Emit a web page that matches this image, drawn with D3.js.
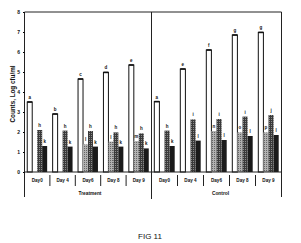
<!DOCTYPE html>
<html>
<head>
<meta charset="utf-8">
<script src="https://cdn.jsdelivr.net/npm/d3@7"></script>
<style>
  body { margin: 0; background: #fff; }
  svg { opacity: 0.999; }
  text { font-family: "Liberation Sans", Arial, sans-serif; fill: #111; }
</style>
</head>
<body>
<script>
var days = ["Day0", "Day 4", "Day6", "Day 8", "Day 9"];
var groups = ["Treatment", "Control"];
var series = ["open", "light", "dark", "black"];
var yTicks = [0, 1, 2, 3, 4, 5, 6, 7, 8];

// log cfu/ml (null = no bar drawn)
var treatmentOpen  = [3.5, 2.9, 4.65, 4.98, 5.35];
var treatmentLight = [null, null, 1.38, 1.52, 1.55];
var treatmentDark  = [2.1, 2.07, 2.05, 1.98, 1.93];
var treatmentBlack = [1.3, 1.27, 1.27, 1.27, 1.18];
var controlOpen  = [3.52, 5.15, 6.1, 6.85, 6.98];
var controlLight = [null, null, 2.05, 1.98, 1.98];
var controlDark  = [2.07, 2.63, 2.65, 2.77, 2.85];
var controlBlack = [1.3, 1.57, 1.6, 1.8, 1.85];

// significance letters above the bars
var treatmentOpenL  = ["a", "b", "c", "d", "e"];
var treatmentLightL = ["", "", "l", "l", "m"];
var treatmentDarkL  = ["h", "h", "h", "h", "h"];
var treatmentBlackL = ["k", "k", "k", "k", "k"];
var controlOpenL  = ["a", "e", "f", "g", "g"];
var controlLightL = ["", "", "n", "o", "p"];
var controlDarkL  = ["h", "i", "i", "i", "j"];
var controlBlackL = ["k", "l", "l", "l", "l"];

var values = {
  Treatment: [treatmentOpen, treatmentLight, treatmentDark, treatmentBlack],
  Control: [controlOpen, controlLight, controlDark, controlBlack]
};
var letters = {
  Treatment: [treatmentOpenL, treatmentLightL, treatmentDarkL, treatmentBlackL],
  Control: [controlOpenL, controlLightL, controlDarkL, controlBlackL]
};

var rows = [];
groups.forEach(function(g) {
  series.forEach(function(s, si) {
    days.forEach(function(d, di) {
      var v = values[g][si][di];
      if (v != null) rows.push({group: g, series: s, day: d, value: v, letter: letters[g][si][di]});
    });
  });
});

var width = 301, height = 243;
var plot = {left: 24.5, right: 281.5, top: 12, base: 172, divider: 151.5};

var svg = d3.select("body").append("svg")
    .attr("width", width)
    .attr("height", height);

var defs = svg.append("defs");
var pl = defs.append("pattern").attr("id", "light").attr("width", 2).attr("height", 2)
    .attr("patternUnits", "userSpaceOnUse");
pl.append("rect").attr("width", 2).attr("height", 2).attr("fill", "#b2b2b2");
pl.append("rect").attr("width", 1).attr("height", 1).attr("fill", "#666");
var pd = defs.append("pattern").attr("id", "dark").attr("width", 2).attr("height", 2)
    .attr("patternUnits", "userSpaceOnUse");
pd.append("rect").attr("width", 2).attr("height", 2).attr("fill", "#3a3a3a");
pd.append("rect").attr("x", 1).attr("y", 1).attr("width", 1).attr("height", 1).attr("fill", "#8c8c8c");

var fills = {open: "#fff", light: "url(#light)", dark: "url(#dark)", black: "#1a1a1a"};

var halfRange = d3.scaleOrdinal().domain(groups)
    .range([[plot.left, plot.divider], [plot.divider, plot.right]]);
var yScale = d3.scaleLinear().domain([0, 8]).range([plot.base, plot.top]);

function dayScale(g) {
  return d3.scaleBand().domain(days).range(halfRange(g)).padding(0);
}
function seriesScale(bw) {
  return d3.scaleBand().domain(series).range([0, bw]).paddingInner(0).paddingOuter(0.55);
}

// bars
var bars = svg.append("g");
rows.forEach(function(d) {
  var xd = dayScale(d.group);
  var xs = seriesScale(xd.bandwidth());
  var x = xd(d.day) + xs(d.series);
  var w = xs.bandwidth();
  bars.append("rect")
    .attr("x", x)
    .attr("y", yScale(d.value))
    .attr("width", w)
    .attr("height", plot.base - yScale(d.value))
    .attr("fill", fills[d.series])
    .attr("stroke", d.series == "open" ? "#111" : "none")
    .attr("stroke-width", 1);
  if (d.series == "open") {
    bars.append("line")
      .attr("x1", x).attr("x2", x + w)
      .attr("y1", yScale(d.value)).attr("y2", yScale(d.value))
      .attr("stroke", "#111").attr("stroke-width", 1.6);
  }
  if (d.letter) {
    bars.append("text")
      .attr("x", x + w / 2)
      .attr("y", yScale(d.value) - 3)
      .attr("text-anchor", "middle")
      .style("font-size", "4.5px")
      .style("font-weight", "bold")
      .text(d.letter);
  }
});

// frame
var frame = svg.append("g").attr("stroke", "#222").attr("stroke-width", 1).attr("fill", "none");
frame.append("line").attr("x1", plot.left).attr("x2", plot.right).attr("y1", plot.top).attr("y2", plot.top);
frame.append("line").attr("x1", plot.left).attr("x2", plot.right).attr("y1", plot.base).attr("y2", plot.base);
frame.append("line").attr("x1", plot.left).attr("x2", plot.left).attr("y1", plot.top).attr("y2", 197);
frame.append("line").attr("x1", plot.divider).attr("x2", plot.divider).attr("y1", plot.top).attr("y2", 199);
frame.append("line").attr("x1", plot.right).attr("x2", plot.right).attr("y1", plot.top).attr("y2", 197);

// y axis ticks
var yAxis = d3.axisLeft(yScale).tickValues(yTicks).tickSize(1.5).tickPadding(3).tickFormat(d3.format("d"));
var yAxisGroup = svg.append("g").attr("transform", "translate(" + plot.left + ",0)").call(yAxis);
yAxisGroup.select(".domain").remove();
yAxisGroup.selectAll("text")
  .style("font-size", "5px")
  .style("font-weight", "bold")
  .style("font-family", "Liberation Sans, Arial, sans-serif");

svg.append("text")
  .attr("transform", "translate(15,94) rotate(-90)")
  .attr("text-anchor", "middle")
  .style("font-size", "6.3px")
  .style("font-weight", "bold")
  .text("Counts, Log cfu/ml");

// day labels and separators under the axis
groups.forEach(function(g) {
  var xd = dayScale(g);
  var gAxis = svg.append("g");
  days.forEach(function(d, i) {
    gAxis.append("text")
      .attr("x", xd(d) + xd.bandwidth() / 2)
      .attr("y", 182)
      .attr("text-anchor", "middle")
      .style("font-size", "4.6px")
      .style("font-weight", "bold")
      .text(d);
    if (i > 0) {
      gAxis.append("line")
        .attr("x1", xd(d)).attr("x2", xd(d))
        .attr("y1", 175).attr("y2", 186)
        .attr("stroke", "#222").attr("stroke-width", 1);
    }
  });
  var r = halfRange(g);
  svg.append("text")
    .attr("x", (r[0] + r[1]) / 2 + (g == "Treatment" ? 2 : 4))
    .attr("y", 195)
    .attr("text-anchor", "middle")
    .style("font-size", "4.8px")
    .style("font-weight", "bold")
    .text(g);
});

svg.append("text")
  .attr("x", 150)
  .attr("y", 239)
  .attr("text-anchor", "middle")
  .style("font-size", "8px")
  .text("FIG 11");
</script>
</body>
</html>
